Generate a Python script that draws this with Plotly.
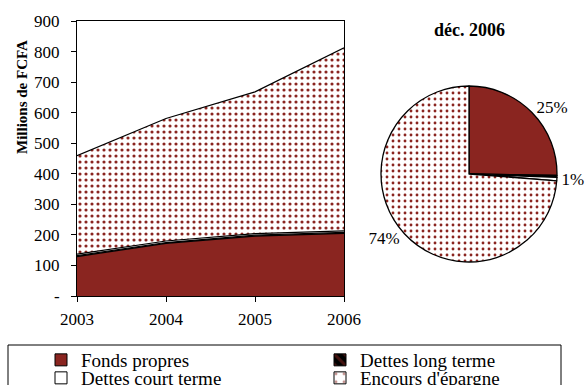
import plotly.graph_objects as go

# Balance sheet structure (millions of FCFA)
years = [2003, 2004, 2005, 2006]
fonds_propres = [129, 172, 196, 205]
dettes_long_terme = [3, 3, 3, 3]
dettes_court_terme = [5, 5, 5, 5]
encours_epargne = [322, 401, 464, 599]

series_names = ["Fonds propres", "Dettes long terme", "Dettes court terme", "Encours d'épargne"]
year_labels = ["2003", "2004", "2005", "2006"]
y_ticks = [0, 100, 200, 300, 400, 500, 600, 700, 800, 900]
y_tick_text = ["-", "100", "200", "300", "400", "500", "600", "700", "800", "900"]

W, H = 585, 385
RED = "#8A2520"
FONT = "Liberation Serif, Times New Roman, serif"


def px_x(v):
    return v / W


def px_y(v):
    return 1 - v / H


dots = dict(shape=".", fgcolor=RED, bgcolor="white", size=6, solidity=0.22, fgopacity=1)
hatch = dict(shape="\\", fgcolor=RED, bgcolor="black", size=9, solidity=0.4)

fig = go.Figure()

# Stacked areas
area_fill = [dict(fillcolor=RED), dict(fillcolor="black"), dict(fillcolor="white"),
             dict(fillcolor="white", fillpattern=dots)]
area_values = [fonds_propres, dettes_long_terme, dettes_court_terme, encours_epargne]
for name, vals, style in zip(series_names, area_values, area_fill):
    fig.add_trace(go.Scatter(x=years, y=vals, stackgroup="one", mode="lines",
                             line=dict(color="black", width=1.2),
                             showlegend=False, name=name, **style))

# Legend entries (one legend box per entry, laid out in a 2x2 grid)
legend_styles = [
    dict(color=RED, line=dict(color="black", width=1)),
    dict(color="black", pattern=hatch, line=dict(color="black", width=1)),
    dict(color="white", line=dict(color="black", width=1)),
    dict(color="white", pattern=dict(shape=".", fgcolor=RED, bgcolor="white", size=12, solidity=0.1),
         line=dict(color="black", width=1)),
]
legend_ids = ["legend", "legend2", "legend3", "legend4"]
for name, style, lid in zip(series_names, legend_styles, legend_ids):
    fig.add_trace(go.Bar(x=[None], y=[None], name=name, marker=style,
                         showlegend=True, legend=lid))

# Pie for the last year
last = [fonds_propres[-1], dettes_long_terme[-1], dettes_court_terme[-1], encours_epargne[-1]]
fig.add_trace(go.Pie(
    labels=series_names, values=last, sort=False, direction="clockwise", rotation=0,
    domain=dict(x=[px_x(381), px_x(557)], y=[px_y(262), px_y(86)]),
    marker=dict(colors=[RED, "black", "white", "white"],
                line=dict(color="black", width=1.3),
                pattern=dict(shape=["", "", "", "."],
                             fgcolor=[RED, "black", "black", RED],
                             bgcolor=[RED, "black", "white", "white"],
                             size=6, solidity=0.18, fgopacity=1)),
    texttemplate=["%{percent:.0%}", "", "%{percent:.0%}", "%{percent:.0%}"],
    textposition="outside", textfont=dict(family=FONT, size=17, color="black"),
    showlegend=False, hoverinfo="label+value+percent",
))

ann = [
    dict(text="<b>déc. 2006</b>", x=px_x(469), y=px_y(30), xref="paper", yref="paper",
         xanchor="center", yanchor="middle",
         showarrow=False, font=dict(family=FONT, size=18, color="black")),
    dict(text="<b>Millions de FCFA</b>", x=px_x(22), y=px_y(97), xref="paper", yref="paper",
         xanchor="center", yanchor="middle",
         showarrow=False, textangle=-90, font=dict(family=FONT, size=15, color="black")),
]

legend_common = dict(orientation="h", xanchor="left", yanchor="middle",
                     font=dict(family=FONT, size=19, color="black"),
                     bgcolor="rgba(0,0,0,0)", borderwidth=0)
legend_pos = {"legend": (41, 360), "legend2": (320, 360), "legend3": (41, 378), "legend4": (320, 378)}
legend_layout = {lid: dict(x=px_x(px), y=px_y(py), **legend_common) for lid, (px, py) in legend_pos.items()}

fig.update_layout(
    width=W, height=H,
    margin=dict(l=0, r=0, t=0, b=0, autoexpand=False),
    paper_bgcolor="white", plot_bgcolor="white",
    font=dict(family=FONT, size=17, color="black"),
    xaxis=dict(domain=[px_x(77), px_x(344)], range=[2003, 2006], tickvals=years,
               ticktext=year_labels, ticks="outside", ticklen=5, tickcolor="black",
               ticklabelstandoff=3, tickfont=dict(family=FONT, size=17),
               showline=True, linecolor="black", linewidth=1, mirror=True,
               showgrid=False, zeroline=False),
    yaxis=dict(domain=[px_y(296), px_y(21)], range=[0, 900], tickvals=y_ticks,
               ticktext=y_tick_text, ticks="outside", ticklen=5, tickcolor="black",
               ticklabelstandoff=8, tickfont=dict(family=FONT, size=17),
               showline=True, linecolor="black", linewidth=1, mirror=True,
               showgrid=False, zeroline=False),
    annotations=ann,
    shapes=[dict(type="rect", xref="paper", yref="paper",
                 x0=px_x(8), x1=px_x(561), y0=px_y(420), y1=px_y(345),
                 line=dict(color="black", width=1), fillcolor="rgba(0,0,0,0)")],
    **legend_layout,
)

fig.write_html("out.html")
